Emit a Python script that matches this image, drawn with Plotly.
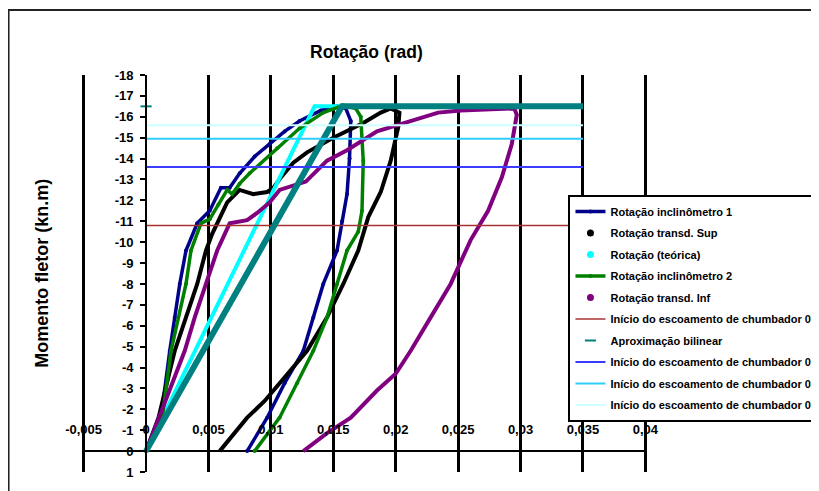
import plotly.graph_objects as go

# ---------------- data ----------------
x_ticks = [-0.005, 0, 0.005, 0.01, 0.015, 0.02, 0.025, 0.03, 0.035, 0.04]
x_tick_labels = ["-0,005", "0", "0,005", "0,01", "0,015", "0,02", "0,025", "0,03", "0,035", "0,04"]
y_ticks = list(range(-18, 2))
y_tick_labels = [str(v) for v in y_ticks]

incl1_x = [0, 0.0012, 0.0019, 0.0023, 0.0027, 0.0032, 0.0041, 0.0051, 0.0060, 0.0067, 0.0075, 0.0087,
           0.0099, 0.0111, 0.0123, 0.0140, 0.0153, 0.0160, 0.0164, 0.0163, 0.0161, 0.0157, 0.0153,
           0.0142, 0.0134, 0.0126, 0.0111, 0.0097, 0.0081]
incl1_y = [0, -1.6, -4.8, -6.4, -8.0, -9.6, -10.9, -11.5, -12.6, -12.6, -13.3, -14.1,
           -14.7, -15.3, -15.8, -16.3, -16.5, -16.4, -15.8, -14.0, -12.3, -11.0, -9.6,
           -8.0, -6.4, -4.8, -3.25, -1.6, 0]

transd_sup_x = [0, 0.0010, 0.0023, 0.0032, 0.0041, 0.0048, 0.0053, 0.0065, 0.0075, 0.0086, 0.0097,
                0.0102, 0.0108, 0.0118, 0.0129, 0.0150, 0.0174, 0.0188, 0.0196, 0.0203, 0.0202,
                0.0196, 0.0188, 0.0178, 0.0170, 0.0158, 0.0145, 0.0129, 0.0107, 0.0095, 0.0081,
                0.0069, 0.0059]
transd_sup_y = [0, -1.6, -4.8, -6.4, -8.0, -9.6, -10.4, -11.9, -12.5, -12.3, -12.4,
                -12.6, -13.1, -13.8, -14.3, -15.0, -15.7, -16.2, -16.4, -16.2, -15.5,
                -13.9, -12.4, -11.2, -9.6, -8.0, -6.4, -4.8, -3.25, -2.4, -1.6,
                -0.7, 0]

teorica_x = [0, 0.0135, 0.035]
teorica_y = [0, -16.5, -16.5]

incl2_x = [0, 0.0013, 0.0020, 0.0032, 0.0036, 0.0044, 0.0051, 0.0058, 0.0065, 0.0069, 0.0075, 0.0083,
           0.0105, 0.0123, 0.0142, 0.0158, 0.0168, 0.0172, 0.0174, 0.0173, 0.0170, 0.0161,
           0.0153, 0.0145, 0.0134, 0.0121, 0.0107, 0.0087]
incl2_y = [0, -1.6, -4.8, -8.0, -9.6, -10.9, -11.1, -11.8, -12.5, -12.3, -12.8, -13.3,
           -14.5, -15.45, -16.2, -16.55, -16.4, -16.0, -13.9, -11.5, -10.5, -9.6,
           -8.0, -6.4, -4.8, -3.25, -1.6, 0]

transd_inf_x = [0, 0.0010, 0.0021, 0.0031, 0.0039, 0.0048, 0.0057, 0.0067, 0.0081, 0.0089, 0.0099,
                0.0107, 0.0121, 0.0128, 0.0145, 0.0161, 0.0185, 0.0206, 0.0234, 0.0252, 0.0295,
                0.0297, 0.0293, 0.0285, 0.0274, 0.0260, 0.0250, 0.0244, 0.0228, 0.0212, 0.0200,
                0.0185, 0.0164, 0.0145, 0.0126]
transd_inf_y = [0, -1.6, -3.25, -4.8, -6.4, -8.0, -9.6, -10.9, -11.05, -11.4, -11.9,
                -12.5, -12.8, -12.9, -13.9, -14.4, -15.3, -15.7, -16.2, -16.3, -16.4,
                -16.1, -14.7, -13.1, -11.5, -10.1, -8.8, -8.0, -6.4, -4.8, -3.7,
                -2.9, -1.6, -0.86, 0]

bilinear_x = [0, 0.0157, 0.035]
bilinear_y = [0, -16.5, -16.5]
bilinear_extra_x = [0]
bilinear_extra_y = [-16.5]

ref_x = [0, 0.035]
ref_red_y = -10.8
ref_blue_y = -13.6
ref_cyan_y = -14.95
ref_lightcyan_y = -15.6

names = ["Rotação inclinômetro 1", "Rotação transd. Sup", "Rotação (teórica)",
         "Rotação inclinômetro 2", "Rotação transd. Inf",
         "Início do escoamento de chumbador 06", "Aproximação bilinear",
         "Início do escoamento de chumbador 05", "Início do escoamento de chumbador 08",
         "Início do escoamento de chumbador 07"]

# ---------------- figure ----------------
fig = go.Figure()


def legend_only(name, color, symbol="circle", size=5):
    fig.add_trace(go.Scatter(x=[None], y=[None], mode="markers", name=name,
                             legendgroup=name,
                             marker=dict(color=color, size=size, symbol=symbol,
                                         line=dict(color=color, width=2))))


fig.add_trace(go.Scatter(x=incl1_x, y=incl1_y, mode="lines+markers", name=names[0],
                         legendgroup=names[0],
                         line=dict(color="#00008B", width=3.5),
                         marker=dict(color="#00008B", size=4)))
fig.add_trace(go.Scatter(x=transd_sup_x, y=transd_sup_y, mode="lines", showlegend=False,
                         legendgroup=names[1], line=dict(color="#000000", width=4)))
legend_only(names[1], "#000000")
fig.add_trace(go.Scatter(x=teorica_x, y=teorica_y, mode="lines", showlegend=False,
                         legendgroup=names[2], line=dict(color="#00FFFF", width=4)))
legend_only(names[2], "#00FFFF")
fig.add_trace(go.Scatter(x=incl2_x, y=incl2_y, mode="lines+markers", name=names[3],
                         legendgroup=names[3],
                         line=dict(color="#008000", width=3.5),
                         marker=dict(color="#008000", size=4)))
fig.add_trace(go.Scatter(x=transd_inf_x, y=transd_inf_y, mode="lines", showlegend=False,
                         legendgroup=names[4], line=dict(color="#800080", width=4)))
legend_only(names[4], "#800080")
fig.add_trace(go.Scatter(x=ref_x, y=[ref_red_y] * len(ref_x), mode="lines", name=names[5],
                         legendgroup=names[5], line=dict(color="#A83232", width=1.5)))
fig.add_trace(go.Scatter(x=bilinear_x, y=bilinear_y, mode="lines", showlegend=False,
                         legendgroup=names[6], line=dict(color="#008080", width=6)))
fig.add_trace(go.Scatter(x=bilinear_extra_x, y=bilinear_extra_y, mode="markers", showlegend=False,
                         legendgroup=names[6],
                         marker=dict(symbol="line-ew", size=8, line=dict(color="#008080", width=2))))
legend_only(names[6], "#008080", symbol="line-ew", size=8)
fig.add_trace(go.Scatter(x=ref_x, y=[ref_blue_y] * len(ref_x), mode="lines", name=names[7],
                         legendgroup=names[7], line=dict(color="#3C3CFF", width=2)))
fig.add_trace(go.Scatter(x=ref_x, y=[ref_cyan_y] * len(ref_x), mode="lines", name=names[8],
                         legendgroup=names[8], line=dict(color="#33CCFF", width=2)))
fig.add_trace(go.Scatter(x=ref_x, y=[ref_lightcyan_y] * len(ref_x), mode="lines", name=names[9],
                         legendgroup=names[9], line=dict(color="#CCFFFF", width=2)))

FONT = "Liberation Sans, Arial, sans-serif"
X_MIN, X_MAX = -0.00513, 0.04013

fig.update_layout(
    width=819, height=491,
    margin=dict(l=74, r=180, t=67, b=27, autoexpand=False),
    paper_bgcolor="white", plot_bgcolor="white",
    font=dict(family=FONT, size=13, color="black", weight="bold"),
    showlegend=True,
    legend=dict(x=0.861, y=0.698, xanchor="left", yanchor="top",
                bgcolor="white", bordercolor="black", borderwidth=2,
                font=dict(family=FONT, size=11, color="black", weight="bold"),
                tracegroupgap=2.5, itemwidth=30, traceorder="grouped"),
    xaxis=dict(range=[X_MIN, X_MAX], tickvals=x_ticks, ticktext=x_tick_labels,
               showgrid=True, gridcolor="black", gridwidth=2.5,
               zeroline=True, zerolinecolor="black", zerolinewidth=2,
               showline=False, anchor="free", position=1 / 19, side="top",
               ticks="outside", ticklen=12, tickcolor="black", tickwidth=2,
               tickfont=dict(family=FONT, size=13, weight="bold")),
    yaxis=dict(range=[1, -18], tickvals=y_ticks, ticktext=y_tick_labels,
               showgrid=False, zeroline=True, zerolinecolor="black", zerolinewidth=2,
               showline=True, linecolor="black", linewidth=2,
               anchor="free", position=(0 - X_MIN) / (X_MAX - X_MIN),
               ticks="outside", ticklen=5, tickcolor="black", tickwidth=1.5,
               ticklabelstandoff=4,
               tickfont=dict(family=FONT, size=13, weight="bold")),
    annotations=[
        dict(text="Rotação (rad)", x=0.5027, y=1.058, xref="paper", yref="paper",
             showarrow=False, xanchor="center", yanchor="middle",
             font=dict(family=FONT, size=17.5, weight="bold")),
        dict(text="Momento fletor (kn.m)", x=-0.0713, y=0.501, xref="paper", yref="paper",
             showarrow=False, xanchor="center", yanchor="middle", textangle=-90,
             font=dict(family=FONT, size=18, weight="bold")),
    ],
    shapes=[
        dict(type="rect", xref="paper", yref="paper", x0=-0.13, y0=-0.12, x1=1.35, y1=1.1637,
             line=dict(color="#222222", width=2), fillcolor="rgba(0,0,0,0)", layer="below"),
    ],
)

fig.write_html("out.html")
